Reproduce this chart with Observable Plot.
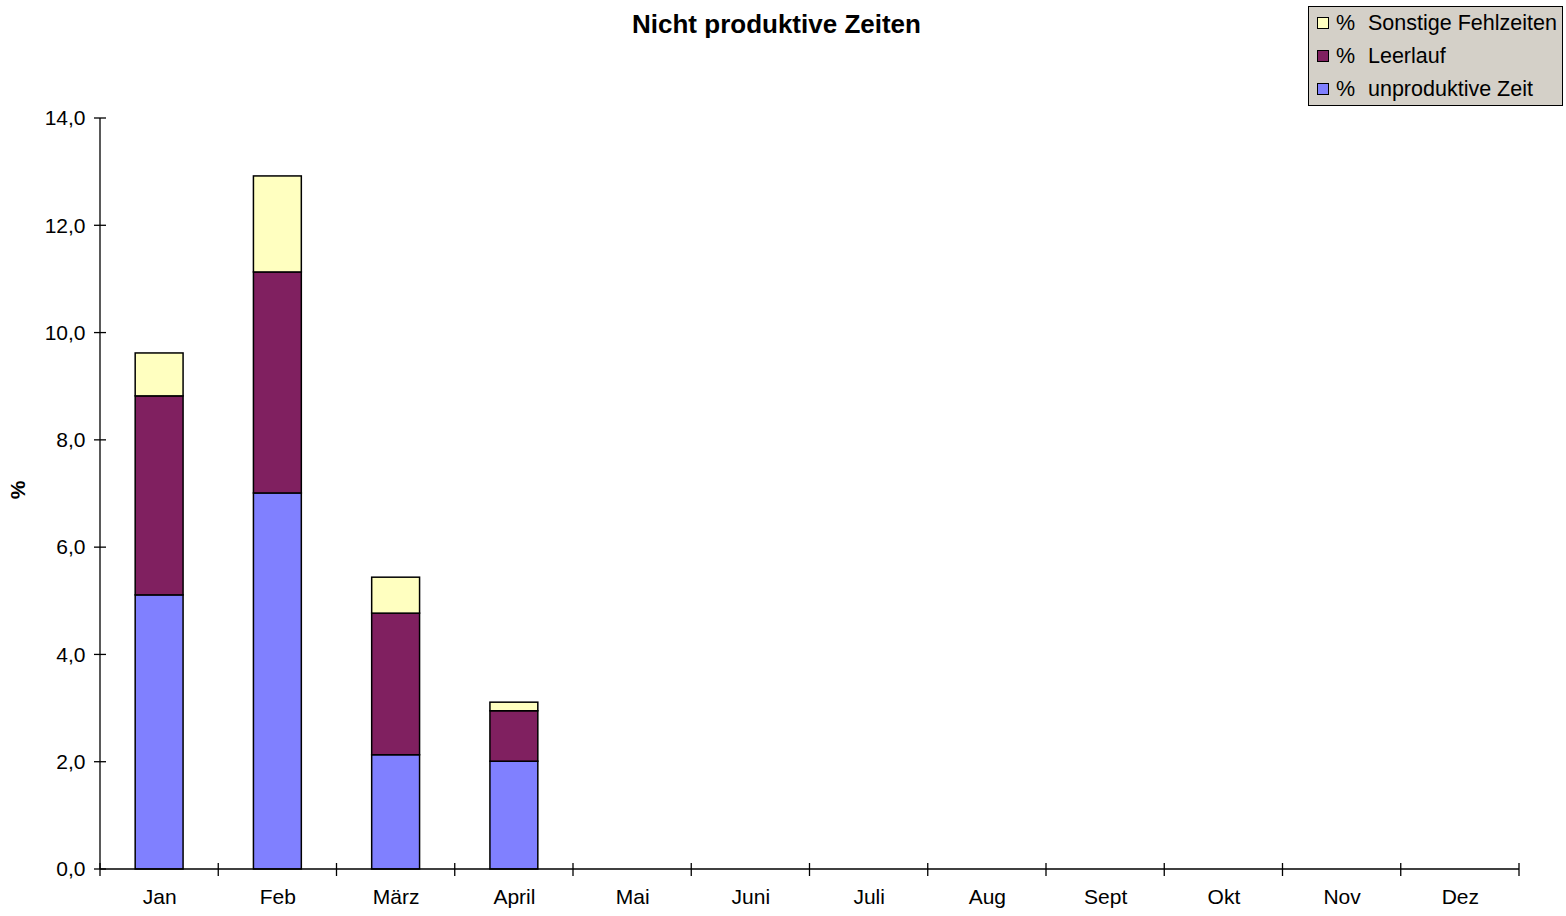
<!DOCTYPE html>
<html>
<head>
<meta charset="utf-8">
<script src="https://cdn.jsdelivr.net/npm/d3@7"></script>
<script src="https://cdn.jsdelivr.net/npm/@observablehq/plot@0.6"></script>
<style>
  body { margin: 0; background: #fff; font-family: "Liberation Sans", Arial, sans-serif; }
  #chart { position: relative; width: 1566px; height: 916px; overflow: hidden; }
  #chart svg { position: absolute; left: 0; top: 0; }
  #title { position: absolute; left: 0; width: 1553px; top: 9px; text-align: center;
           font-weight: bold; font-size: 26px; color: #000; }
  #ylabel { position: absolute; left: 18px; top: 490px; transform: translate(-50%, -50%) rotate(-90deg);
            font-weight: bold; font-size: 21px; }
  #legend { position: absolute; left: 1308px; top: 6px; width: 253px; height: 98px;
            background: #d4d0c8; border: 1px solid #000; font-size: 21.5px; }
  #legend .row { position: absolute; left: 0; height: 24px; line-height: 24px; white-space: nowrap; }
  #legend .sw { position: absolute; left: 8px; top: 6px; width: 10px; height: 10px; border: 1px solid #000; }
  #legend .pct { position: absolute; left: 27px; }
  #legend .name { position: absolute; left: 59px; }
</style>
</head>
<body>
<div id="chart">
  <div id="title">Nicht produktive Zeiten</div>
  <div id="ylabel">%</div>
  <div id="legend"></div>
</div>
<script>
// Monate und Werte (Prozent) je Kategorie
const months = ["Jan", "Feb", "März", "April", "Mai", "Juni", "Juli", "Aug", "Sept", "Okt", "Nov", "Dez"];
const seriesNames = ["unproduktive Zeit", "Leerlauf", "Sonstige Fehlzeiten"];
const unproduktiveZeit = [5.11, 7.01, 2.13, 2.01];
const leerlauf = [3.71, 4.12, 2.64, 0.94];
const sonstigeFehlzeiten = [0.80, 1.79, 0.67, 0.16];
const seriesColors = ["#8080ff", "#802060", "#ffffc0"];
const yTicks = [0, 2, 4, 6, 8, 10, 12, 14];

// Langformat für das gestapelte Balkendiagramm
const seriesValues = [unproduktiveZeit, leerlauf, sonstigeFehlzeiten];
const rows = [];
seriesNames.forEach((name, s) => {
  seriesValues[s].forEach((v, i) => rows.push({month: months[i], series: name, value: v}));
});

const fmt = d => d.toFixed(1).replace(".", ",");

// Achsenlinien und Teilstriche im Stil der Tabellenkalkulation
const axisLines = (index, scales, values, dims) => {
  const x = scales.x, y = scales.y;
  const g = d3.create("svg:g").attr("stroke", "#000").attr("stroke-width", 1.3).attr("fill", "none");
  const left = dims.marginLeft, right = dims.width - dims.marginRight;
  const base = y(0);
  g.append("line").attr("x1", left).attr("x2", right).attr("y1", base).attr("y2", base);
  g.append("line").attr("x1", left).attr("x2", left).attr("y1", base).attr("y2", y(yTicks[yTicks.length - 1]));
  for (const t of yTicks) {
    g.append("line").attr("x1", left - 6).attr("x2", left + 6).attr("y1", y(t)).attr("y2", y(t));
  }
  const r0 = x.range()[0], step = x.step();
  for (let i = 0; i <= months.length; i++) {
    const px = r0 + i * step;
    g.append("line").attr("x1", px).attr("x2", px).attr("y1", base - 6).attr("y2", base + 7);
  }
  return g.node();
};

const plot = Plot.plot({
  width: 1566,
  height: 916,
  marginLeft: 100,
  marginRight: 47,
  marginTop: 118,
  marginBottom: 47,
  style: {fontFamily: "'Liberation Sans', Arial, sans-serif", fontSize: "21px", background: "transparent", color: "#000"},
  x: {domain: months, round: false, paddingInner: 0.595, paddingOuter: 0.2975, tickSize: 0, tickPadding: 20, label: null},
  y: {domain: [0, 14], ticks: yTicks, tickSize: 0, tickPadding: 15, tickFormat: fmt, label: null},
  color: {domain: seriesNames, range: seriesColors},
  marks: [
    Plot.barY(rows, {x: "month", y: "value", fill: "series", stroke: "#000", strokeWidth: 1.5}),
    axisLines
  ]
});
document.getElementById("chart").prepend(plot);

// Legende (oberste Stapelkategorie zuerst)
const legend = document.getElementById("legend");
[...seriesNames].reverse().forEach((name, k) => {
  const row = document.createElement("div");
  row.className = "row";
  row.style.top = (4 + k * 33) + "px";
  const sw = document.createElement("div");
  sw.className = "sw";
  sw.style.background = seriesColors[seriesNames.indexOf(name)];
  const pct = document.createElement("span");
  pct.className = "pct";
  pct.textContent = "%";
  const nm = document.createElement("span");
  nm.className = "name";
  nm.textContent = name;
  row.append(sw, pct, nm);
  legend.append(row);
});
</script>
</body>
</html>
